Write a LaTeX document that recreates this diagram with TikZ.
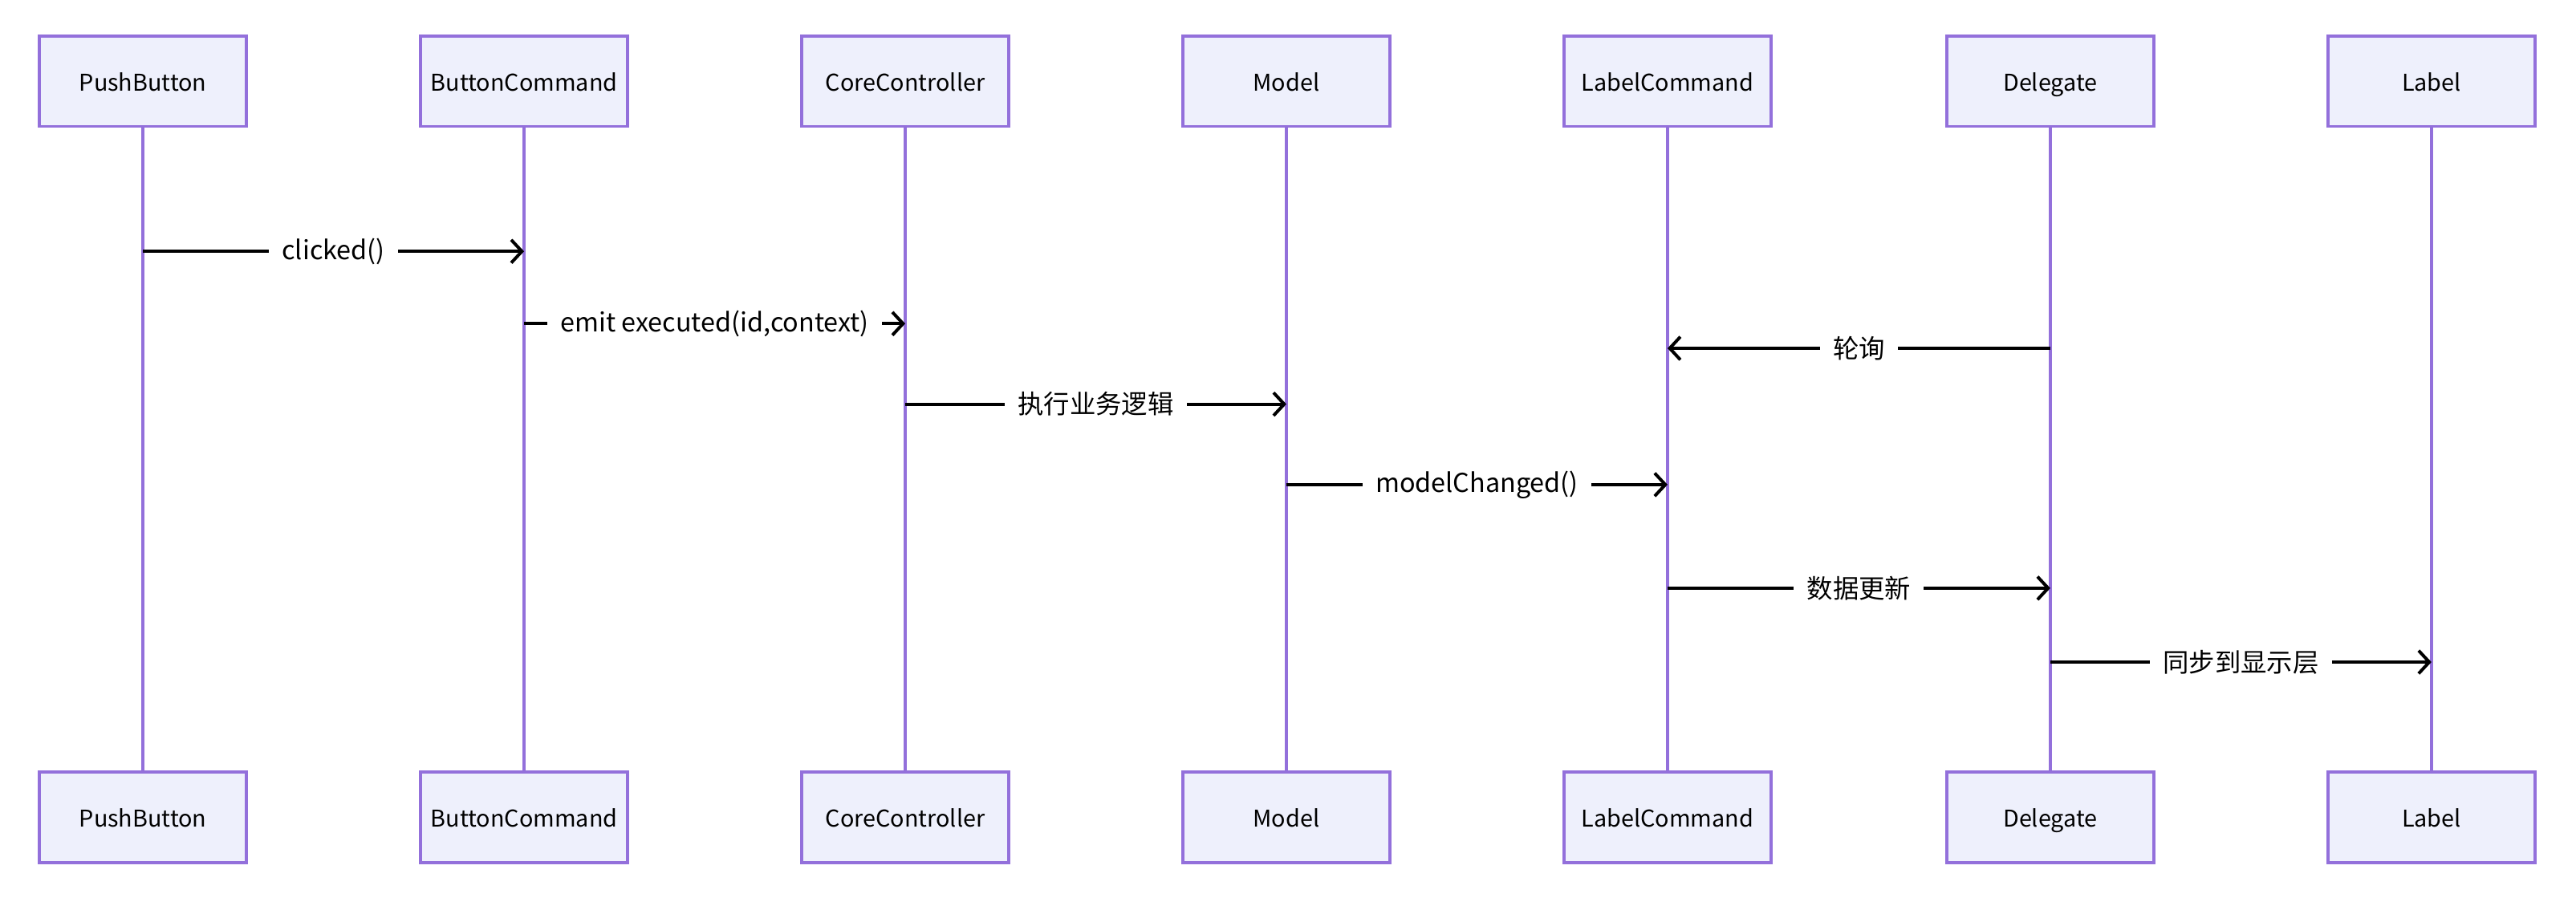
\documentclass[tikz,border=0pt]{standalone}
\usepackage{fontspec}
\setmainfont{Noto Sans CJK SC}
\usepackage{xcolor}
\usepackage{tikz}
\usetikzlibrary{arrows.meta}
\definecolor{actorpurple}{RGB}{147,112,219}
\definecolor{actorfill}{RGB}{238,240,252}

\begin{document}
\begin{tikzpicture}[every node/.style={font=\fontsize{9}{11}\selectfont},
  actor/.style={draw=actorpurple, line width=1pt, fill=actorfill, minimum width=2.52cm, minimum height=1.1cm, font=\fontsize{8}{10}\selectfont, text height=1.6ex, text depth=0.4ex},
  life/.style={actorpurple, line width=0.9pt},
  msg/.style={-{Straight Barb[length=1.3mm,width=2.8mm]}, line width=1.1pt},
  lbl/.style={fill=white, inner sep=4.5pt}]
\useasboundingbox (0,0) rectangle (31.36,-10.98);

% Participants (top)
\node[actor] (pb) at (1.74,-0.99) {PushButton};
\node[actor] (bc) at (6.38,-0.99) {ButtonCommand};
\node[actor] (cc) at (11.02,-0.99) {CoreController};
\node[actor] (md) at (15.66,-0.99) {Model};
\node[actor] (lc) at (20.30,-0.99) {LabelCommand};
\node[actor] (dl) at (24.96,-0.99) {Delegate};
\node[actor] (lb) at (29.60,-0.99) {Label};

% Participants (bottom)
\node[actor] (pbb) at (1.74,-9.95) {PushButton};
\node[actor] (bcb) at (6.38,-9.95) {ButtonCommand};
\node[actor] (ccb) at (11.02,-9.95) {CoreController};
\node[actor] (mdb) at (15.66,-9.95) {Model};
\node[actor] (lcb) at (20.30,-9.95) {LabelCommand};
\node[actor] (dlb) at (24.96,-9.95) {Delegate};
\node[actor] (lbb) at (29.60,-9.95) {Label};

% Lifelines
\draw[life] (pb) -- (pbb);
\draw[life] (bc) -- (bcb);
\draw[life] (cc) -- (ccb);
\draw[life] (md) -- (mdb);
\draw[life] (lc) -- (lcb);
\draw[life] (dl) -- (dlb);
\draw[life] (lb) -- (lbb);

% Message rows
\coordinate (r1) at (0,-3.06);
\coordinate (r2) at (0,-3.94);
\coordinate (r3) at (0,-4.24);
\coordinate (r4) at (0,-4.92);
\coordinate (r5) at (0,-5.90);
\coordinate (r6) at (0,-7.16);
\coordinate (r7) at (0,-8.06);

% Messages
\draw[msg] (pb |- r1) -- node[lbl] {clicked()} (bc |- r1);
\draw[msg] (bc |- r2) -- node[lbl] {emit executed(id,context)} (cc |- r2);
\draw[msg] (dl |- r3) -- node[lbl] {轮询} (lc |- r3);
\draw[msg] (cc |- r4) -- node[lbl] {执行业务逻辑} (md |- r4);
\draw[msg] (md |- r5) -- node[lbl] {modelChanged()} (lc |- r5);
\draw[msg] (lc |- r6) -- node[lbl] {数据更新} (dl |- r6);
\draw[msg] (dl |- r7) -- node[lbl] {同步到显示层} (lb |- r7);
\end{tikzpicture}
\end{document}
